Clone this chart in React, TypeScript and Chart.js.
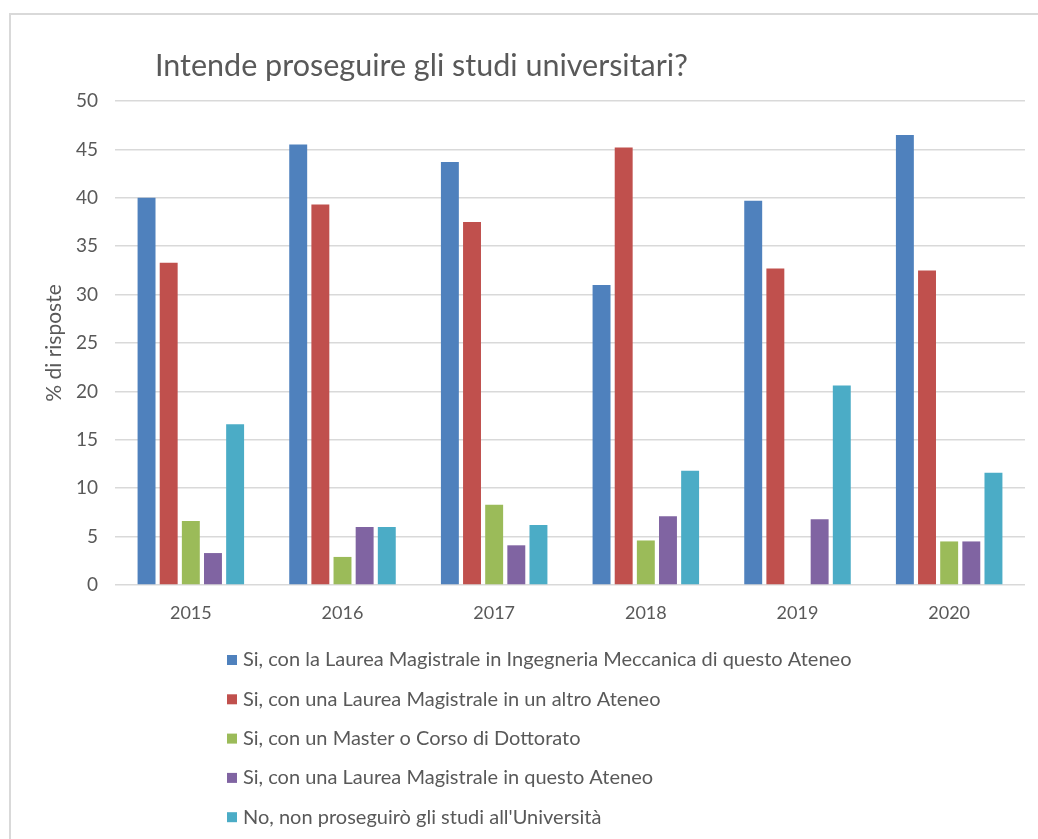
import React, { useEffect, useRef } from "react";
import { Chart, registerables } from "chart.js";

Chart.register(...registerables);

const TITLE = "Intende proseguire gli studi universitari?";
const Y_TITLE = "% di risposte";
const years = ["2015", "2016", "2017", "2018", "2019", "2020"];

const seriesLabels = [
  "Si, con la Laurea Magistrale in Ingegneria Meccanica di questo Ateneo",
  "Si, con una Laurea Magistrale in un altro Ateneo",
  "Si, con un Master o Corso di Dottorato",
  "Si, con una Laurea Magistrale in questo Ateneo",
  "No, non proseguirò gli studi all'Università",
];

const lmQuestoAteneoMeccanica = [40.0, 45.5, 43.7, 31.0, 39.7, 46.5];
const lmAltroAteneo = [33.3, 39.3, 37.5, 45.2, 32.7, 32.5];
const masterDottorato = [6.6, 2.9, 8.3, 4.6, 0, 4.5];
const lmQuestoAteneo = [3.3, 6.0, 4.1, 7.1, 6.8, 4.5];
const nonProsegue = [16.6, 6.0, 6.2, 11.8, 20.6, 11.6];

const seriesColors = ["#4F81BD", "#C0504D", "#9BBB59", "#8064A2", "#4BACC6"];

const FONT = "Lato, 'Noto Sans', sans-serif";
const TEXT = "#595959";

const overlayPlugin = {
  id: "overlay",
  afterDraw(chart: any) {
    const ctx = chart.ctx;
    ctx.save();
    ctx.fillStyle = TEXT;
    ctx.font = `30.5px ${FONT}`;
    ctx.textBaseline = "alphabetic";
    ctx.textAlign = "left";
    ctx.fillText(TITLE, 155, 76);

    ctx.font = `20px ${FONT}`;
    ctx.textBaseline = "middle";
    chart.data.datasets.forEach((ds: any, i: number) => {
      const y = 660 + i * 39.3;
      ctx.fillStyle = ds.backgroundColor;
      ctx.fillRect(227, y - 5, 10, 10);
      ctx.fillStyle = TEXT;
      ctx.fillText(ds.label, 243, y);
    });
    ctx.restore();
  },
};

export default function App() {
  const ref = useRef<HTMLCanvasElement>(null);
  useEffect(() => {
    if (!ref.current) return;
    const series = [lmQuestoAteneoMeccanica, lmAltroAteneo, masterDottorato, lmQuestoAteneo, nonProsegue];
    const chart = new Chart(ref.current, {
      type: "bar",
      data: {
        labels: years,
        datasets: series.map((d, i) => ({
          label: seriesLabels[i],
          data: d,
          backgroundColor: seriesColors[i],
          borderColor: "#ffffff",
          borderWidth: 0,
          barPercentage: 0.81,
          categoryPercentage: 0.73,
        })),
      },
      options: {
        responsive: false,
        animation: false,
        layout: { padding: { left: 0, top: 101, right: 13, bottom: 214 } },
        plugins: {
          legend: { display: false },
          title: { display: false },
          tooltip: { enabled: false },
        },
        scales: {
          x: {
            grid: { display: false, drawTicks: false },
            border: { display: false },
            ticks: { color: TEXT, font: { family: FONT, size: 18 }, padding: 17 },
            afterFit: (s: any) => {
              s.height = 40;
            },
          },
          y: {
            min: 0,
            max: 50,
            ticks: { stepSize: 5, color: TEXT, font: { family: FONT, size: 19 }, padding: 17 },
            grid: { color: "#d9d9d9", lineWidth: 1.5, drawTicks: false },
            border: { display: false },
            title: {
              display: true,
              text: Y_TITLE,
              color: TEXT,
              font: { family: FONT, size: 21 },
              padding: { top: 42, bottom: 0 },
            },
            afterFit: (s: any) => {
              s.width = 115;
            },
          },
        },
      },
      plugins: [overlayPlugin],
    });
    return () => chart.destroy();
  }, []);

  return (
    <div style={{ position: "fixed", left: 0, top: 0, width: 1038, height: 839, overflow: "hidden", background: "#fff" }}>
      <div
        style={{
          position: "absolute",
          left: 9,
          top: 13,
          width: 1100,
          height: 900,
          border: "2px solid #d9d9d9",
          boxSizing: "border-box",
        }}
      />
      <canvas ref={ref} width={1038} height={839} style={{ position: "absolute", left: 0, top: 0 }} />
    </div>
  );
}
